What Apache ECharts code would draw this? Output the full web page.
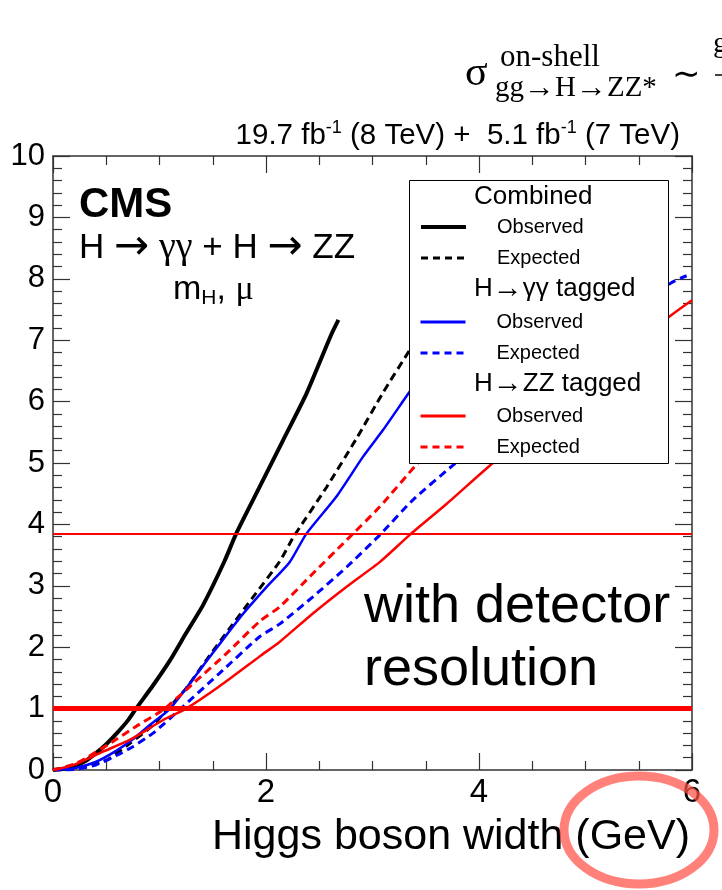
<!DOCTYPE html>
<html>
<head>
<meta charset="utf-8">
<script src="https://cdn.jsdelivr.net/npm/echarts@6/dist/echarts.min.js"></script>
<style>
html, body { margin: 0; padding: 0; background: #fff; }
#chart { width: 722px; height: 890px; }
</style>
</head>
<body>
<div id="chart"></div>
<script>
// Likelihood scans, -2 Δ ln L versus the Higgs boson width (GeV)
const combinedObserved = [[0,0],[0.1,0.02],[0.2,0.06],[0.3,0.14],[0.4,0.27],[0.5,0.42],[0.6,0.6],[0.7,0.8],[0.78,1.0],[0.94,1.38],[1.10,1.79],[1.25,2.23],[1.41,2.69],[1.61,3.40],[1.72,3.85],[1.94,4.61],[2.16,5.37],[2.38,6.13],[2.61,7.08],[2.68,7.33]];
const combinedExpected = [[0,0],[0.22,0.03],[0.5,0.16],[0.72,0.43],[0.94,0.73],[1.08,1.0],[1.25,1.33],[1.44,1.79],[1.66,2.31],[1.88,2.82],[2.13,3.40],[2.26,3.80],[2.57,4.61],[2.85,5.40],[3.10,6.15],[3.35,6.84],[3.45,7.10]];
const gammaObserved = [[0,0],[0.2,0.03],[0.4,0.13],[0.6,0.32],[0.75,0.5],[0.9,0.72],[1.10,1.0],[1.41,1.70],[1.75,2.47],[2.0,2.97],[2.22,3.38],[2.38,3.85],[2.66,4.45],[2.91,5.10],[3.10,5.54],[3.34,6.14],[3.45,6.40]];
const gammaExpected = [[0,0],[0.2,0.01],[0.4,0.08],[0.6,0.24],[0.75,0.38],[0.94,0.60],[1.20,1.0],[1.56,1.57],[1.94,2.17],[2.13,2.38],[2.44,2.82],[2.76,3.31],[3.07,3.83],[3.38,4.40],[3.76,4.97],[5.80,7.93],[5.95,8.05]];
const zzObserved = [[0,0],[0.19,0.08],[0.47,0.30],[0.72,0.49],[1.03,0.81],[1.25,1.0],[1.56,1.36],[1.94,1.85],[2.13,2.09],[2.44,2.55],[2.76,2.99],[3.07,3.39],[3.35,3.83],[3.70,4.34],[4.13,5.0],[5.77,7.36],[6.0,7.65]];
const zzExpected = [[0,0],[0.22,0.11],[0.55,0.45],[0.78,0.71],[1.05,1.0],[1.31,1.40],[1.63,1.90],[1.94,2.42],[2.13,2.66],[2.44,3.20],[2.76,3.75],[3.07,4.29],[3.41,4.97],[3.50,5.12]];

// Horizontal reference levels (68% and 95% CL)
const thresholds = [1.0, 3.84];

// Axis ranges and tick steps
const xRange = [0, 6];
const yRange = [0, 10];
const xStep = 2;
const yStep = 1;

const SANS = '"Liberation Sans", Arial, Helvetica, sans-serif';
const SERIF = '"Liberation Serif", "Times New Roman", serif';
const ARROW = '"DejaVu Sans", sans-serif';
const AXIS_COLOR = '#333';

const chart = echarts.init(document.getElementById('chart'), null, { renderer: 'canvas' });

function axisCommon(extra, minorSplit) {
  return Object.assign({
    type: 'value',
    splitLine: { show: false },
    axisLine: { show: true, onZero: false, lineStyle: { color: AXIS_COLOR, width: 1.5 } },
    axisTick: { show: true, inside: true, length: 17, lineStyle: { color: AXIS_COLOR, width: 1.2 } },
    minorTick: { show: true, splitNumber: minorSplit, length: 9, lineStyle: { color: AXIS_COLOR, width: 1.2 } },
    minorSplitLine: { show: false }
  }, extra);
}

function curve(name, data, color, width, dashed) {
  return {
    name: name,
    type: 'line',
    data: data,
    showSymbol: false,
    symbol: 'none',
    smooth: 0.2,
    z: 3,
    lineStyle: { color: color, width: width, type: dashed ? [8, 5] : 'solid' },
    itemStyle: { color: color }
  };
}

const legendBase = {
  orient: 'vertical',
  left: 419,
  itemWidth: 45,
  itemHeight: 10,
  itemGap: 11,
  padding: 0,
  z: 20,
  selectedMode: false,
  itemStyle: { opacity: 0 },
  textStyle: { fontFamily: SANS, fontSize: 20, color: '#000', lineHeight: 20, padding: [0, 0, 0, 26] },
  formatter: function (name) { return name.split(' · ')[1]; }
};

function legendItem(name, width, dashed) {
  return { name: name, lineStyle: { width: width, type: dashed ? [7, 5] : 'solid' } };
}

const option = {
  backgroundColor: '#fff',
  animation: false,
  grid: { left: 53, right: 30, top: 156, bottom: 120, containLabel: false },
  xAxis: [
    axisCommon({
      min: xRange[0], max: xRange[1], interval: xStep, position: 'bottom',
      axisLabel: { show: true, fontFamily: SANS, fontSize: 33, color: '#000', margin: 6 }
    }, 4),
    axisCommon({
      min: xRange[0], max: xRange[1], interval: xStep, position: 'top',
      axisLabel: { show: false }
    }, 4)
  ],
  yAxis: [
    axisCommon({
      min: yRange[0], max: yRange[1], interval: yStep, position: 'left',
      axisLabel: { show: true, fontFamily: SANS, fontSize: 31, color: '#000', margin: 8 }
    }, 5),
    axisCommon({
      min: yRange[0], max: yRange[1], interval: yStep, position: 'right',
      axisLabel: { show: false }
    }, 5)
  ],
  legend: [
    Object.assign({}, legendBase, { top: 217, data: [legendItem('Combined · Observed', 4, false), legendItem('Combined · Expected', 3, true)] }),
    Object.assign({}, legendBase, { top: 312, data: [legendItem('H→γγ tagged · Observed', 3, false), legendItem('H→γγ tagged · Expected', 3, true)] }),
    Object.assign({}, legendBase, { top: 406, data: [legendItem('H→ZZ tagged · Observed', 3, false), legendItem('H→ZZ tagged · Expected', 3, true)] })
  ],
  series: [
    curve('Combined · Observed', combinedObserved, '#000000', 4, false),
    curve('Combined · Expected', combinedExpected, '#000000', 3, true),
    curve('H→γγ tagged · Observed', gammaObserved, '#0000ff', 2.5, false),
    curve('H→γγ tagged · Expected', gammaExpected, '#0000ff', 3, true),
    curve('H→ZZ tagged · Observed', zzObserved, '#ff0000', 2.5, false),
    curve('H→ZZ tagged · Expected', zzExpected, '#ff0000', 3, true),
    {
      name: 'levels',
      type: 'line',
      data: [],
      z: 4,
      markLine: {
        silent: true,
        symbol: 'none',
        label: { show: false },
        data: [
          { yAxis: thresholds[0], lineStyle: { color: '#ff0000', width: 5, type: 'solid' } },
          { yAxis: thresholds[1], lineStyle: { color: '#ff0000', width: 2, type: 'solid' } }
        ]
      }
    }
  ],
  graphic: [
    // legend frame and group headings
    { type: 'rect', z: 10, shape: { x: 409.5, y: 180.5, width: 259, height: 283 },
      style: { fill: '#fff', stroke: '#000', lineWidth: 1 } },
    { type: 'text', z: 21, style: { text: 'Combined', x: 474, y: 197, font: '26px ' + SANS, fill: '#000', verticalAlign: 'middle' } },
    { type: 'text', z: 21, style: { text: 'H{a|→}γγ tagged', x: 474, y: 289, font: '26px ' + SANS, fill: '#000', verticalAlign: 'middle',
        rich: { a: { fontFamily: SANS, fontSize: 30 } } } },
    { type: 'text', z: 21, style: { text: 'H{a|→}ZZ tagged', x: 474, y: 384, font: '26px ' + SANS, fill: '#000', verticalAlign: 'middle',
        rich: { a: { fontFamily: SANS, fontSize: 30 } } } },

    // experiment label and channels
    { type: 'text', z: 21, style: { text: 'CMS', x: 79, y: 205, font: 'bold 42px ' + SANS, fill: '#000', verticalAlign: 'middle' } },
    { type: 'text', z: 21, style: {
        text: 'H {a|→} {g|γγ} + H {a|→} ZZ', x: 79, y: 248, font: '35px ' + SANS, fill: '#000', verticalAlign: 'middle',
        rich: { g: { fontFamily: SERIF, fontSize: 38 }, a: { fontFamily: ARROW, fontSize: 42 } } } },
    { type: 'text', z: 21, style: {
        text: 'm{s|H}, {g|μ}', x: 173, y: 290, font: '34px ' + SANS, fill: '#000', verticalAlign: 'middle',
        rich: { s: { fontSize: 21, padding: [17, 0, 0, 0] }, g: { fontFamily: SERIF, fontSize: 34 } } } },

    // luminosity line
    { type: 'text', z: 21, style: {
        text: '19.7 fb{sup|-1} (8 TeV) +  5.1 fb{sup|-1} (7 TeV)', x: 680, y: 136, font: '29.5px ' + SANS, fill: '#000',
        align: 'right', verticalAlign: 'middle',
        rich: { sup: { fontSize: 18, padding: [0, 0, 15, 0] } } } },

    // on-shell cross section relation
    { type: 'text', z: 21, style: { text: 'σ', x: 465, y: 74, font: '42px ' + SERIF, fill: '#000', verticalAlign: 'middle' } },
    { type: 'text', z: 21, style: { text: 'on-shell', x: 500, y: 58, font: '31px ' + SERIF, fill: '#000', verticalAlign: 'middle' } },
    { type: 'text', z: 21, style: { text: 'gg{a|→}H{a|→}ZZ*', x: 495, y: 88, font: '29px ' + SERIF, fill: '#000', verticalAlign: 'middle',
        rich: { a: { fontFamily: SANS, fontSize: 31 } } } },
    { type: 'text', z: 21, style: { text: '∼', x: 672, y: 76, font: '34px ' + SERIF, fill: '#000', verticalAlign: 'middle' } },
    { type: 'text', z: 21, style: { text: 'g', x: 713, y: 44, font: '30px ' + SERIF, fill: '#000', verticalAlign: 'middle' } },
    { type: 'line', z: 21, shape: { x1: 715, y1: 75, x2: 722, y2: 75 }, style: { stroke: '#000', lineWidth: 1.5 } },

    // annotation inside the frame
    { type: 'text', z: 21, style: { text: 'with detector\nresolution', x: 364, y: 576, font: '54px ' + SANS, fill: '#000', lineHeight: 63 } },

    // axis title
    { type: 'text', z: 21, style: { text: 'Higgs boson width (GeV)', x: 690, y: 837, font: '43px ' + SANS, fill: '#000', align: 'right', verticalAlign: 'middle' } },

    // highlighted unit
    { type: 'ellipse', z: 30, shape: { cx: 639, cy: 830, rx: 75, ry: 54 },
      style: { fill: 'none', stroke: 'rgba(255, 80, 70, 0.72)', lineWidth: 9 } }
  ]
};

chart.setOption(option);
</script>
</body>
</html>
